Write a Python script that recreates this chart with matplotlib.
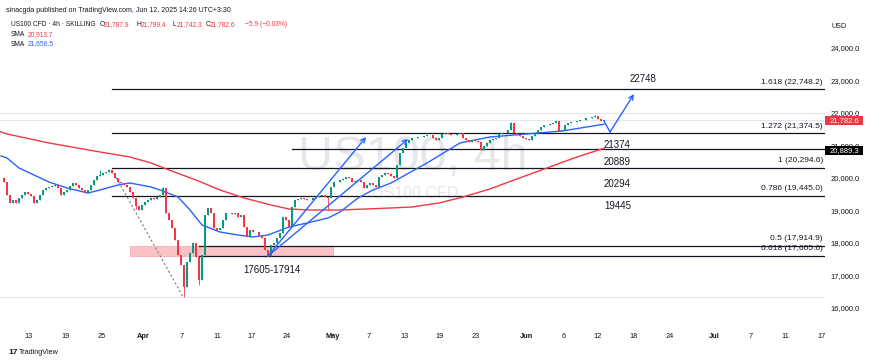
import matplotlib
matplotlib.use("Agg")
import matplotlib.pyplot as plt
from matplotlib.patches import Rectangle

plt.rcParams['font.family'] = ['Liberation Sans', 'DejaVu Sans']

# ---------------- data ----------------
open0 = 20000.0
closes = [
    19877, 19477, 19231,  19323, 19231, 19385,  19477, 19569, 19508,  19446, 19231, 19323,
    19477, 19631, 19692,  19723, 19754, 19785,  19692, 19477, 19569,  19631, 19754, 19846,
    19785, 19692, 19631,  19538, 19631, 19785,  19938, 20062, 20092,  20154, 20185, 20246,
    20154, 20000, 19877,  19846, 19785, 19723,  19569, 19385, 19138,  19015, 19169, 19262,
    19323, 19385, 19354,  19415, 19477, 19692,  18923, 18708, 18462,  18092, 17631, 17323,
    16646, 17415, 17692,  18000, 17569, 16862,  17631, 18862, 19077,  18923, 18462, 18400,
    18462, 18708, 18923,  18923, 18892, 18923,  18800, 18862, 18492,  18185, 18400, 18338,
    18338, 18215, 18154,  17785, 17600, 17938,  18000, 18154, 18308,  18800, 18708, 18492,
    19108, 19323, 19354,  19385, 19354, 19323,  19323, 19385, 19415,  19446, 19477, 19415,
    19385, 19723, 19877,  19877, 19938, 19969,  20031, 20000, 19877,  19908, 19938, 19877,
    19692, 19785, 19846,  19785, 19723, 20031,  20092, 20154, 20123,  20062, 20000, 20400,
    20769, 20923, 21077,  21169, 21231, 21231,  21262, 21262, 21292,  21323, 21323, 21231,
    21169, 21231, 21354,  21385, 21354, 21323,  21323, 21354, 21385,  21231, 21169, 21108,
    21169, 21138, 21108,  20862, 20985, 21077,  21169, 21200, 21231,  21354, 21385, 21385,
    21477, 21692, 21385,  21323, 21292, 21231,  21200, 21169, 21292,  21385, 21477, 21569,
    21631, 21631, 21662,  21692, 21754, 21446,  21477, 21631, 21692,  21723, 21723, 21754,
    21785, 21785, 21846,  21846, 21877, 21908,  21815, 21754, 21782.6,
]
# notable wicks (bar index, price)
wick_bars = [60, 65, 88, 108, 53, 169, 197, 0, 32, 44]
wick_prices = [16338, 16708, 17569, 19015, 19723, 21723, 21938, 20030, 20250, 19060]

sma_slow_x = [-2, 1, 15, 32, 42, 49, 55, 64, 72, 80, 89, 95, 102, 112, 129, 136, 145, 153,
              162, 170, 181, 190, 200]
sma_slow_v = [21446, 21354, 21077, 20800, 20646, 20462, 20246, 19938, 19631, 19385, 19169,
              19046, 19015, 19015, 19077, 19108, 19231, 19415, 19662, 19938, 20308, 20615,
              20914]
sma_fast_x = [-1, 1, 5, 10, 15, 21, 28, 32, 38, 42, 49, 52, 58, 62, 66, 72, 78, 83, 88, 95,
              101, 108, 112, 118, 123, 129, 141, 152, 162, 170, 186, 199, 200]
sma_fast_v = [20677, 20615, 20308, 20092, 19877, 19692, 19538, 19631, 19785, 19846, 19723,
              19631, 19415, 19015, 18554, 18338, 18246, 18185, 18246, 18492, 18615, 18769,
              18954, 19385, 19631, 19846, 20462, 21077, 21262, 21323, 21446, 21640, 21656.5]

fib_levels = ["1.618", "1.272", "1", "0.786", "0.5", "0.618"]
fib_prices = [22748.2, 21374.5, 20294.6, 19445.0, 17914.9, 17605.6]
fib_start = [36, 36, 36, 36, 65, 65]
level_labels = ["22748", "21374", "20889", "20294", "19445"]
zone_low, zone_high = 17605.6, 17914.9
hline_price = 20889.3

tick_pos = [8.3, 20.4, 32.4, 46.5, 59.1, 71, 82.6, 94.3, 109.5, 121.4, 133.4, 145.1, 157.1,
            174.3, 186.4, 198, 209.9, 221.8, 236.7, 248.8, 260.3, 272.6]
tick_lab = ["13", "19", "25", "Apr", "7", "11", "17", "24", "May", "7", "13", "19", "23",
            "Jun", "6", "12", "18", "24", "Jul", "7", "11", "17"]
price_ticks = [16000, 17000, 18000, 19000, 20000, 21000, 22000, 23000, 24000]

# arrows (bar index, price)
arrow1 = [(88, 17600), (120.7, 21262)]
arrow2 = [(88, 17600), (134.7, 21200)]
vpath = [(200, 21754), (202, 21415), (210, 22585)]
dash_line = [(36, 20246), (59.7, 16338)]

# ---------------- figure ----------------
W, H = 870, 363
fig = plt.figure(figsize=(W / 100, H / 100), dpi=100)
fig.patch.set_facecolor('white')
ax = fig.add_axes([0, (H - 322) / H, 825 / W, (322 - 18) / H])
ax.set_xlim(-4 / 3, 821 / 3)
ax.set_ylim(15569, 24923)
for s in ax.spines.values():
    s.set_visible(False)

GREEN, RED, BLUE, DARK = '#089981', '#F23645', '#2962FF', '#131722'

def ftext(x, y, s, **kw):
    kw.setdefault('color', DARK)
    kw.setdefault('fontsize', 5.2)
    kw.setdefault('va', 'center')
    return fig.text(x / W, 1 - y / H, s, **kw)

# watermark
ax.text(413 / W, 1 - 158 / H, "US100, 4h", transform=fig.transFigure, fontsize=35,
        color='#e6e7eb', ha='center', va='center', zorder=0)
ax.text(415 / W, 1 - 194 / H, "US100 CFD", transform=fig.transFigure, fontsize=11.5,
        color='#e6e7eb', ha='center', va='center', zorder=0)

# light lines
for p in [22000, 21782.6, 16338]:
    ax.axhline(p, color='#e3e5ea', lw=0.8, zorder=0.5)

# zone
ax.add_patch(Rectangle((42, zone_low), 109.7 - 42, zone_high - zone_low,
                       facecolor=RED, alpha=0.3, edgecolor=RED, lw=0.6, zorder=1))

# fib lines
for lv, p, st in zip(fib_levels, fib_prices, fib_start):
    ax.plot([st, 300], [p, p], color='#131722', lw=0.9, zorder=2)
ax.plot([96, 300], [hline_price, hline_price], color='#131722', lw=0.9, zorder=2)

# SMAs
ax.plot(sma_slow_x, sma_slow_v, color=RED, lw=1.0, zorder=3)
ax.plot(sma_fast_x, sma_fast_v, color=BLUE, lw=1.0, zorder=3)

# candles
opens = [open0] + closes[:-1]
for k, (o, c) in enumerate(zip(opens, closes)):
    col = GREEN if c >= o else RED
    hi, lo = max(o, c), min(o, c)
    if k in wick_bars:
        wp = wick_prices[wick_bars.index(k)]
        hi, lo = max(hi, wp), min(lo, wp)
    ax.vlines(k, lo, hi, color=col, lw=0.6, zorder=4)
    ax.bar(k, max(abs(c - o), 12), bottom=min(o, c), width=0.6, color=col, lw=0, zorder=4)

# dashed line
ax.plot([dash_line[0][0], dash_line[1][0]], [dash_line[0][1], dash_line[1][1]],
        color='#787b86', lw=0.8, ls=(0, (2, 2)), zorder=3)

# arrows
ap = dict(arrowstyle='->', color=BLUE, lw=1.0, mutation_scale=8, shrinkA=0, shrinkB=0)
ax.annotate('', xy=arrow1[1], xytext=arrow1[0], arrowprops=ap, zorder=5)
ax.annotate('', xy=arrow2[1], xytext=arrow2[0], arrowprops=ap, zorder=5)
ax.plot([vpath[0][0], vpath[1][0]], [vpath[0][1], vpath[1][1]], color=BLUE, lw=1.0, zorder=5)
ax.annotate('', xy=vpath[2], xytext=vpath[1], arrowprops=ap, zorder=5)

# level texts
lab_y = [79, 145, 162, 184, 206]
lab_x = [630, 604, 604, 604, 604]
for t, x, y in zip(level_labels, lab_x, lab_y):
    ftext(x, y, t, fontsize=7, ha='left')
ftext(272, 270, "17605-17914", fontsize=7, ha='center')

fib_y = [82, 127, 161, 188, 238, 248]
for lv, p, y in zip(fib_levels, fib_prices, fib_y):
    ftext(823, y, f"{lv} ({p:,.1f})", fontsize=6.0, ha='right')

# axes ticks
ax.set_xticks(tick_pos)
ax.set_xticklabels(tick_lab)
for lbl in ax.get_xticklabels():
    if lbl.get_text() in ("Apr", "May", "Jun", "Jul"):
        lbl.set_fontweight('bold')
ax.tick_params(axis='x', length=0, pad=8, labelsize=5.3, labelcolor=DARK)
ax.yaxis.tick_right()
ax.set_yticks(price_ticks)
ax.set_yticklabels([f"{p:,.1f}" for p in price_ticks])
ax.tick_params(axis='y', length=0, pad=4, labelsize=5.5, labelcolor=DARK)

# price labels on axis
def price_box(y, txt, fc):
    fig.patches.append(Rectangle((825 / W, 1 - (y + 4.5) / H), 38 / W, 9 / H,
                                 transform=fig.transFigure, facecolor=fc, edgecolor='none',
                                 figure=fig, zorder=5))
    ftext(844, y, txt, color='white', ha='center', zorder=6, fontsize=5.5)

price_box(120.5, "21,782.6", RED)
price_box(150.5, "20,889.3", '#000000')
ftext(832, 26, "USD", ha='left', fontsize=5.2)

# header
ftext(6, 10, "sinacgda published on TradingView.com, Jun 12, 2025 14:26 UTC+3:30", ha='left', fontsize=5.0)
ftext(11, 25, "US100 CFD · 4h · SKILLING", ha='left', fontsize=4.8)
parts = [(100, "O", DARK), (104, "21,787.9", RED), (137, "H", DARK), (141, "21,799.4", RED),
         (173, "L", DARK), (177, "21,742.3", RED), (206, "C", DARK), (210, "21,782.6", RED),
         (245, "\u22125.9 (\u22120.03%)", RED)]
for x, s, c in parts:
    ftext(x, 25, s, color=c, ha='left', fontsize=4.8)
ftext(11, 35, "SMA", ha='left', fontsize=4.8)
ftext(28, 35, "20,913.7", color=RED, ha='left', fontsize=4.8)
ftext(11, 44, "SMA", ha='left', fontsize=4.8)
ftext(28, 44, "21,656.5", color=BLUE, ha='left', fontsize=4.8)

# footer
ftext(8, 353, "17", ha='left', fontsize=6, fontweight='bold')
ftext(19, 353, "TradingView", ha='left', fontsize=5.2)

fig.savefig("out.png", dpi=100, facecolor='white')
